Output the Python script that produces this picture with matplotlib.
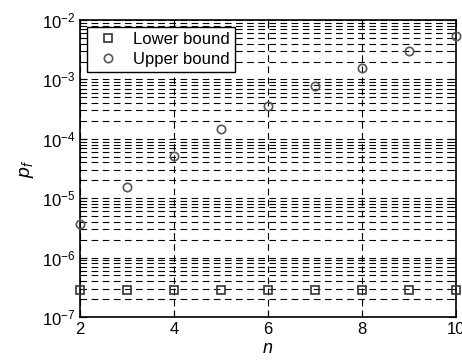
import matplotlib
matplotlib.use("Agg")
import matplotlib.pyplot as plt
import numpy as np
from matplotlib.ticker import LogLocator, NullFormatter

n = [2, 3, 4, 5, 6, 7, 8, 9, 10]
lower = [2.85e-7, 2.85e-7, 2.85e-7, 2.85e-7, 2.85e-7, 2.85e-7, 2.85e-7, 2.85e-7, 2.85e-7]
upper = [3.7e-6, 1.55e-5, 5.2e-5, 1.44e-4, 3.5e-4, 7.7e-4, 1.55e-3, 3.0e-3, 5.4e-3]
xticks = [2, 4, 6, 8, 10]

plt.rcParams['font.family'] = ['Liberation Sans', 'DejaVu Sans']
plt.rcParams['mathtext.fontset'] = 'custom'
plt.rcParams['mathtext.it'] = 'Liberation Sans:italic'
plt.rcParams['mathtext.rm'] = 'Liberation Sans'

fig = plt.figure(figsize=(4.62, 3.6), dpi=100)
ax = fig.add_axes([80/462, 1-317/360, 376/462, 297/360])

ax.plot(n, lower, linestyle='none', marker='s', markersize=6, markerfacecolor='none',
        markeredgecolor='#333333', markeredgewidth=1.2, label='Lower bound',
        clip_on=False, zorder=5)
ax.plot(n, upper, linestyle='none', marker='o', markersize=6, markerfacecolor='none',
        markeredgecolor='#555555', markeredgewidth=1.2, label='Upper bound',
        clip_on=False, zorder=5)

ax.set_yscale('log')
ax.set_xlim(2, 10)
ax.set_ylim(1e-7, 1e-2)
ax.set_xticks(xticks)
ax.set_xticklabels([str(v) for v in xticks])
ax.yaxis.set_major_locator(LogLocator(base=10, numticks=10))
ax.yaxis.set_minor_locator(LogLocator(base=10, subs=np.arange(2, 10), numticks=20))
ax.yaxis.set_minor_formatter(NullFormatter())

ax.grid(True, which='major', axis='both', linestyle=(0, (6, 4)), color='black', linewidth=0.8)
ax.grid(True, which='minor', axis='y', linestyle=(0, (6, 4)), color='black', linewidth=0.8)

ax.tick_params(axis='both', which='both', direction='in', top=True, right=True, labelsize=12)
ax.tick_params(axis='both', which='major', length=5)
ax.tick_params(axis='y', which='minor', length=3)
for s in ax.spines.values():
    s.set_linewidth(1.2)

ax.set_xlabel('$n$', fontsize=13, labelpad=2)
ax.set_ylabel('$p_f$', fontsize=14, labelpad=4)

leg = ax.legend(loc='upper left', fontsize=12, frameon=True, fancybox=False,
                edgecolor='black', framealpha=1, borderaxespad=0.4, handletextpad=0.5,
                borderpad=0.3, labelspacing=0.3)
leg.get_frame().set_linewidth(1.0)
leg.set_zorder(10)

fig.savefig('out.png', dpi=100)
